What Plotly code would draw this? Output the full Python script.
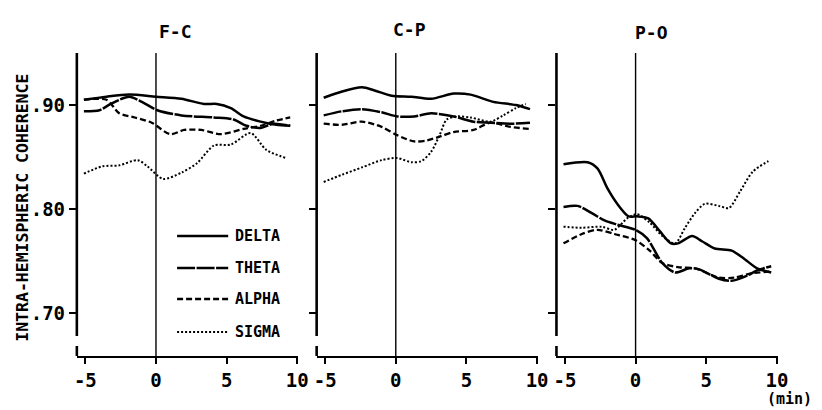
import plotly.graph_objects as go

# The page body has an 8px default margin, so the figure is sized and
# positioned to compensate and line up with the 822x410 window.
OFF = 8
FW, FH = 822 - OFF, 410 - OFF

PANELS = ["F-C", "C-P", "P-O"]
BANDS = ["DELTA", "THETA", "ALPHA", "SIGMA"]
X_TICKS = [-5, 0, 5, 10]
X_TICK_TEXT = ["-5", "0", "5", "10"]
Y_TICKS = [0.70, 0.80, 0.90]
Y_TICK_TEXT = [".70", ".80", ".90"]
Y_TITLE = "INTRA-HEMISPHERIC COHERENCE"
X_UNIT = "(min)"

# ---- F-C ----
FC_DELTA_T = [-5.1, -3.5, -1.9, 0, 1.8, 3.4, 4.3, 5.3, 6.2, 7.4, 8.5, 9.5]
FC_DELTA_V = [0.905, 0.908, 0.910, 0.908, 0.906, 0.901, 0.901, 0.897, 0.889, 0.884, 0.881, 0.880]
FC_THETA_T = [-5.1, -4, -3.2, -1.9, -1, 0.1, 1.8, 4.1, 5.5, 6.4, 7.4, 8.3, 9.5]
FC_THETA_V = [0.894, 0.895, 0.901, 0.908, 0.903, 0.895, 0.890, 0.888, 0.886, 0.880, 0.878, 0.882, 0.880]
FC_ALPHA_T = [-5.1, -3.5, -2.6, -1.5, -0.3, 1, 2, 3.2, 4.6, 6.2, 7.4, 8.5, 9.5]
FC_ALPHA_V = [0.905, 0.905, 0.892, 0.888, 0.883, 0.872, 0.876, 0.876, 0.872, 0.877, 0.880, 0.885, 0.888]
FC_SIGMA_T = [-5.1, -3.8, -2.6, -1.3, -0.6, 0.5, 1.8, 2.9, 4.1, 5.3, 6.7, 7.8, 9.2]
FC_SIGMA_V = [0.834, 0.841, 0.842, 0.847, 0.841, 0.829, 0.835, 0.844, 0.861, 0.862, 0.873, 0.857, 0.849]

# ---- C-P ----
CP_DELTA_T = [-5.1, -3.8, -2.4, -1.5, -0.3, 1.1, 2.5, 4.1, 5.3, 6.9, 8.5, 9.5]
CP_DELTA_V = [0.907, 0.913, 0.917, 0.914, 0.909, 0.908, 0.906, 0.911, 0.910, 0.903, 0.900, 0.896]
CP_THETA_T = [-5.1, -3.8, -2.4, -1, 0.1, 1.3, 2.5, 4.1, 5.5, 6.7, 8.1, 9.5]
CP_THETA_V = [0.890, 0.894, 0.896, 0.893, 0.889, 0.889, 0.892, 0.889, 0.884, 0.883, 0.882, 0.883]
CP_ALPHA_T = [-5.1, -3.8, -2.4, -1, 0.1, 1.3, 2.2, 3.2, 4.1, 5.5, 6.7, 8.1, 9.5]
CP_ALPHA_V = [0.882, 0.881, 0.884, 0.879, 0.871, 0.865, 0.866, 0.870, 0.874, 0.876, 0.883, 0.879, 0.877]
CP_SIGMA_T = [-5.1, -3.8, -2.4, -1, 0.1, 1.1, 1.8, 2.5, 3.1, 3.6, 4.3, 5.3, 6.7, 7.6, 8.5, 9.2]
CP_SIGMA_V = [0.826, 0.833, 0.840, 0.847, 0.849, 0.845, 0.846, 0.855, 0.871, 0.886, 0.889, 0.888, 0.884, 0.890, 0.897, 0.901]

# ---- P-O ----
PO_DELTA_T = [-5.1, -3.4, -2.7, -2, -1.3, -0.5, 0.1, 0.9, 1.7, 2.5, 3, 4, 4.7, 5.6, 6.8, 7.7, 8.6, 9.6]
PO_DELTA_V = [0.843, 0.845, 0.839, 0.820, 0.805, 0.793, 0.793, 0.791, 0.779, 0.767, 0.767, 0.774, 0.769, 0.762, 0.760, 0.752, 0.743, 0.739]
PO_THETA_T = [-5.1, -4.1, -3.1, -2.2, -1.3, 0, 0.8, 1.9, 2.8, 3.8, 4.5, 5.9, 6.8, 7.9, 8.6, 9.6]
PO_THETA_V = [0.802, 0.803, 0.796, 0.789, 0.785, 0.780, 0.772, 0.748, 0.739, 0.743, 0.742, 0.733, 0.731, 0.736, 0.741, 0.745]
PO_ALPHA_T = [-5.1, -3.8, -2.7, -1.5, 0, 1, 1.9, 3.1, 4.2, 5.9, 7, 8.1, 9.6]
PO_ALPHA_V = [0.767, 0.776, 0.780, 0.776, 0.770, 0.760, 0.748, 0.744, 0.743, 0.734, 0.734, 0.738, 0.740]
PO_SIGMA_T = [-5.1, -3.8, -2.4, -1.5, -0.6, 0.1, 1, 1.9, 2.8, 3.5, 4.2, 4.9, 5.9, 6.6, 7.4, 8.3, 9.4]
PO_SIGMA_V = [0.783, 0.782, 0.783, 0.780, 0.791, 0.795, 0.787, 0.774, 0.767, 0.782, 0.796, 0.805, 0.803, 0.801, 0.817, 0.836, 0.846]

SERIES = [
    [(FC_DELTA_T, FC_DELTA_V), (FC_THETA_T, FC_THETA_V), (FC_ALPHA_T, FC_ALPHA_V), (FC_SIGMA_T, FC_SIGMA_V)],
    [(CP_DELTA_T, CP_DELTA_V), (CP_THETA_T, CP_THETA_V), (CP_ALPHA_T, CP_ALPHA_V), (CP_SIGMA_T, CP_SIGMA_V)],
    [(PO_DELTA_T, PO_DELTA_V), (PO_THETA_T, PO_THETA_V), (PO_ALPHA_T, PO_ALPHA_V), (PO_SIGMA_T, PO_SIGMA_V)],
]

STYLES = {
    "DELTA": dict(dash="solid", width=2.5),
    "THETA": dict(dash="18px,1.5px", width=2.5),
    "ALPHA": dict(dash="6px,3px", width=2.3),
    "SIGMA": dict(dash="2px,2px", width=2.0),
}

FONT = "DejaVu Sans Mono, Liberation Mono, monospace"
BOLD = "bold"


def fx(x):
    return (x - OFF) / FW


def fy(y):
    return 1 - (y - OFF) / FH


X_PX = [(75, 300), (319, 544), (563, 788)]
Y_TOP, Y_BOT = 53, 356
X_RANGE = [-5.6, 10.05]
Y_RANGE = [0.6587, 0.95]

fig = go.Figure()
layout = dict(
    width=FW, height=FH,
    margin=dict(l=0, r=0, t=0, b=0),
    paper_bgcolor="white", plot_bgcolor="white",
    showlegend=False,
    font=dict(family=FONT, color="black", size=17),
)

shapes = []
annotations = []
for i, panel in enumerate(PANELS):
    n = "" if i == 0 else str(i + 1)
    xa, ya = "x" + n, "y" + n
    for band, (t, v) in zip(BANDS, SERIES[i]):
        st = STYLES[band]
        fig.add_trace(go.Scatter(
            x=t, y=v, mode="lines", name=band,
            line=dict(color="black", width=st["width"], dash=st["dash"],
                      shape="spline", smoothing=0.8),
            xaxis=xa, yaxis=ya, hoverinfo="skip",
        ))
    x0, x1 = X_PX[i]
    layout["xaxis" + n] = dict(
        domain=[fx(x0), fx(x1)], range=X_RANGE, anchor=ya,
        showline=True, linecolor="black", linewidth=2.4,
        ticks="outside", ticklen=6, tickwidth=2, tickcolor="black",
        tickvals=X_TICKS, ticktext=X_TICK_TEXT,
        tickfont=dict(size=19, weight=BOLD), showgrid=False, zeroline=False,
        fixedrange=True,
    )
    layout["yaxis" + n] = dict(
        domain=[fy(Y_BOT), fy(Y_TOP)], range=Y_RANGE, anchor=xa,
        showline=False, ticks="outside", ticklen=7, tickwidth=2, tickcolor="black",
        tickvals=Y_TICKS, ticktext=Y_TICK_TEXT, showticklabels=(i == 0),
        tickfont=dict(size=19, weight=BOLD), showgrid=False, zeroline=False,
        fixedrange=True,
    )
    # broken y axis line
    for (d0, d1) in [(0.066, 1.0), (0.0, 0.033)]:
        shapes.append(dict(type="line", xref=xa + " domain", yref=ya + " domain",
                           x0=0, x1=0, y0=d0, y1=d1,
                           line=dict(color="black", width=2.6)))
    # onset line at t=0
    shapes.append(dict(type="line", xref=xa, yref=ya + " domain",
                       x0=0, x1=0, y0=0, y1=1,
                       line=dict(color="black", width=1.4)))

TITLE_POS = [(175, 32), (413, 29), (660, 33)]
for panel, (px, py) in zip(PANELS, TITLE_POS):
    annotations.append(dict(text=panel, xref="paper", yref="paper",
                            x=fx(px), y=fy(py), showarrow=False,
                            xanchor="center", yanchor="middle",
                            font=dict(size=18, weight=BOLD)))

annotations.append(dict(text=Y_TITLE, xref="paper", yref="paper",
                        x=fx(20), y=fy(208), showarrow=False, textangle=-90,
                        xanchor="center", yanchor="middle",
                        font=dict(size=16.5, weight=BOLD)))

annotations.append(dict(text=X_UNIT, xref="paper", yref="paper",
                        x=fx(800), y=fy(399), showarrow=False,
                        xanchor="center", yanchor="middle",
                        font=dict(size=15, weight=BOLD)))

# legend drawn inside the F-C panel
LEG_Y = [236, 268, 299, 332]
for band, ly in zip(BANDS, LEG_Y):
    st = STYLES[band]
    shapes.append(dict(type="line", xref="paper", yref="paper",
                       x0=fx(177), x1=fx(229), y0=fy(ly), y1=fy(ly),
                       line=dict(color="black", width=st["width"], dash=st["dash"])))
    annotations.append(dict(text=band, xref="paper", yref="paper",
                            x=fx(234), y=fy(ly), showarrow=False,
                            xanchor="left", yanchor="middle",
                            font=dict(size=15, weight=BOLD)))

layout["shapes"] = shapes
layout["annotations"] = annotations
fig.update_layout(**layout)
fig.write_html("out.html")
